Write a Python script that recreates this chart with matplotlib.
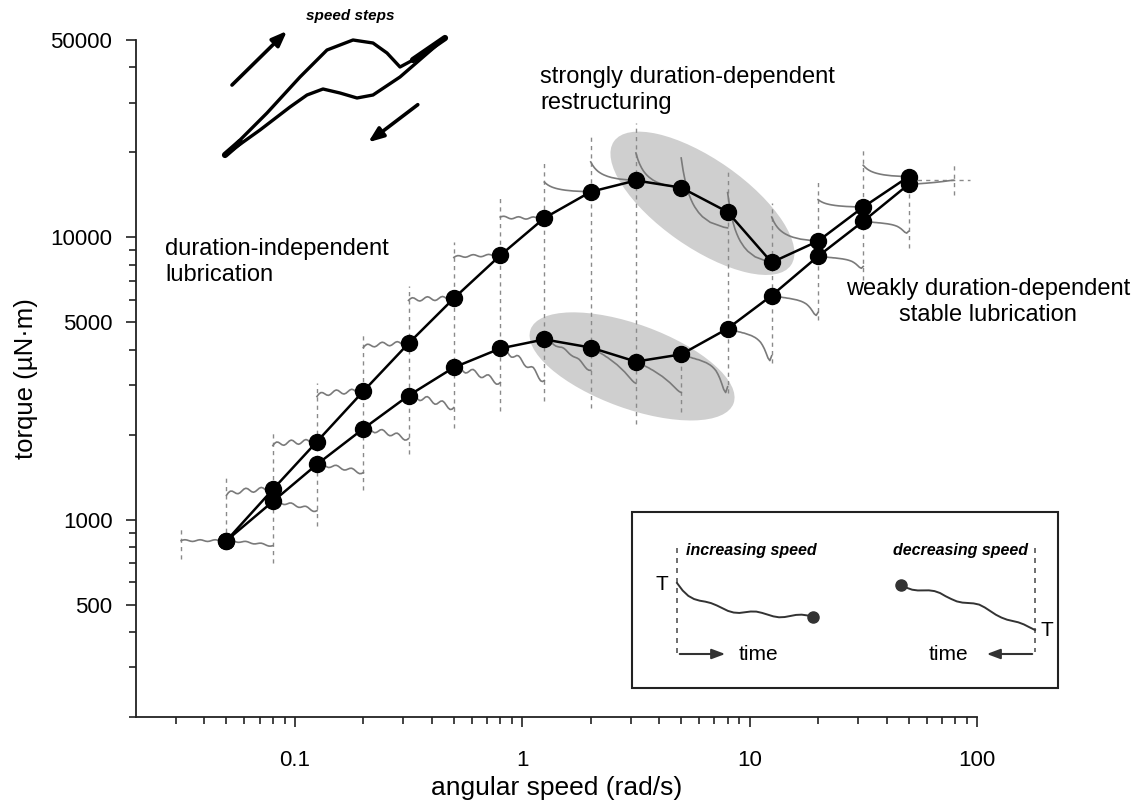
import numpy as np
import matplotlib.pyplot as plt
from matplotlib.patches import Ellipse, Rectangle
from matplotlib.transforms import ScaledTranslation

plt.rcParams['font.family'] = ['Liberation Sans', 'DejaVu Sans']

# speed steps (rad/s)
speeds = [0.05, 0.08, 0.125, 0.2, 0.316, 0.5, 0.8, 1.25, 2, 3.16, 5, 8, 12.5, 20, 31.6, 50]
# dashed markers sit on the step boundaries
edges = [0.0316] + speeds + [79]

# torque at the end of each step (uN.m)
torque_up = [843, 1280, 1890, 2850, 4210, 6080, 8630, 11700, 14500, 15900, 15000, 12300, 8150, 9700, 12800, 16400]
torque_down = [843, 1160, 1570, 2100, 2750, 3460, 4040, 4350, 4070, 3630, 3850, 4750, 6220, 8570, 11400, 15400]

# raw torque traces inside each step
up_start = [843, 1220, 1830, 2730, 4070, 5980, 8490, 11800, 15700, 18500, 19900, 19100, 14400, 11800, 13600, 18000]
up_end = [843, 1280, 1890, 2850, 4210, 6080, 8630, 11700, 14500, 15900, 15000, 10800, 8150, 9700, 12800, 16400]
down_end = [809, 1076, 1468, 1937, 2494, 3060, 3110, 3380, 3040, 2820, 2820, 3660, 5290, 7770, 10350, 15930]
up_wave = [0.003, 0.008, 0.008, 0.008, 0.007, 0.007, 0.004, 0.004, 0, 0, 0, 0, 0, 0, 0, 0]
down_wave = [0.003, 0.005, 0.006, 0.008, 0.01, 0.01, 0.01, 0.004, 0, 0, 0, 0, 0, 0, 0, 0]
down_dip = [False] * 10 + [True, True, True, True, True, False]

# extent of the dashed step markers
dash_top = [940, 1400, 2030, 3060, 4600, 6700, 9600, 14100, 18750, 23400, 25400, 3980, 17600, 13200, 15700, 20400, 15900, 18000]
dash_bottom = [727, 790, 700, 950, 1270, 1710, 2120, 2430, 2640, 2480, 2190, 2400, 2820, 3580, 5080, 7040, 9200, 14100]

# trace shapes (normalised)
DECAY = [1.00, 0.82, 0.68, 0.57, 0.48, 0.41, 0.35, 0.30, 0.26, 0.22, 0.19, 0.16, 0.14,
         0.12, 0.10, 0.08, 0.07, 0.06, 0.05, 0.04, 0.03, 0.02, 0.01, 0.005, 0.0]
SAG = [0, 0.03, 0.06, 0.09, 0.12, 0.15, 0.18, 0.21, 0.25, 0.28, 0.32, 0.36, 0.40,
       0.44, 0.48, 0.53, 0.58, 0.63, 0.68, 0.74, 0.80, 0.86, 0.92, 0.97, 1.0]
DIP = [0, 0.02, 0.04, 0.05, 0.07, 0.08, 0.10, 0.11, 0.13, 0.14, 0.16, 0.18, 0.20,
       0.22, 0.25, 0.28, 0.32, 0.37, 0.43, 0.52, 0.63, 0.77, 0.92, 1.0, 0.85]
WAVE = [0, .7, 1, .7, 0, -.7, -1, -.7, 0, .7, 1, .7, 0, -.7, -1, -.7, 0, .7, 1, .7, 0, -.7, -1, -.7, 0]

W, H = 1138, 810
fig = plt.figure(figsize=(W / 100, H / 100), dpi=100)
ax = fig.add_axes([136 / W, 1 - 717 / H, (977 - 136) / W, (717 - 40) / H])
ax.set_xscale('log')
ax.set_yscale('log')
ax.set_xlim(0.02, 100)
ax.set_ylim(200, 50000)

gray = '#7a7a7a'


def blob(cx, cy, w, h, angle):
    tr = fig.dpi_scale_trans + ScaledTranslation(cx, cy, ax.transData)
    ax.add_patch(Ellipse((0, 0), w, h, angle=angle, transform=tr,
                         facecolor='#cfcfcf', edgecolor='none', zorder=1))


blob(6.2, 13200, 2.16, 0.88, -35)
blob(3.04, 3490, 2.16, 0.84, -20)

for e, t, b in zip(edges, dash_top, dash_bottom):
    ax.plot([e, e], [b, t], ls=(0, (3, 3)), color='#8a8a8a', lw=1, zorder=2)
ax.plot([50, 93], [15930, 15930], ls=(0, (3, 3)), color='#8a8a8a', lw=1, zorder=2)

n = len(DECAY)
decay = np.array(DECAY)
wave = np.array(WAVE)
for i in range(len(speeds)):
    # increasing step: from previous boundary to this speed
    xs = np.logspace(np.log10(edges[i]), np.log10(edges[i + 1]), n)
    ly = np.log10(up_end[i]) + (np.log10(up_start[i]) - np.log10(up_end[i])) * decay + up_wave[i] * wave
    ax.plot(xs, 10 ** ly, color=gray, lw=1.2, zorder=3)
    # decreasing step: from this speed to next boundary
    xs = np.logspace(np.log10(edges[i + 1]), np.log10(edges[i + 2]), n)
    shape = np.array(DIP if down_dip[i] else SAG)
    ly = np.log10(torque_down[i]) + (np.log10(down_end[i]) - np.log10(torque_down[i])) * shape + down_wave[i] * wave
    ax.plot(xs, 10 ** ly, color=gray, lw=1.2, zorder=3)

ax.plot(speeds, torque_up, '-o', color='black', lw=1.8, ms=11.5, zorder=5)
ax.plot(speeds, torque_down, '-o', color='black', lw=1.8, ms=11.5, zorder=5)

for s in ['top', 'right']:
    ax.spines[s].set_visible(False)
for s in ['left', 'bottom']:
    ax.spines[s].set_linewidth(1.3)
    ax.spines[s].set_color('#222222')

ax.set_xticks([0.1, 1, 10, 100], labels=['0.1', '1', '10', '100'])
ax.set_yticks([500, 1000, 5000, 10000, 50000], labels=['500', '1000', '5000', '10000', '50000'])
ax.set_xticks([k * 10.0 ** d for d in range(-2, 2) for k in range(2, 10) if 0.02 < k * 10.0 ** d < 100], minor=True)
ax.set_yticks([k * 10.0 ** d for d in range(2, 5) for k in range(2, 10) if 200 <= k * 10.0 ** d < 50000], minor=True)
ax.xaxis.set_minor_formatter(plt.NullFormatter())
ax.yaxis.set_minor_formatter(plt.NullFormatter())
ax.tick_params(which='major', length=7, width=1.2, color='#222222', labelsize=16)
ax.tick_params(which='minor', length=5, width=1.2, color='#222222')
ax.tick_params(axis='x', which='major', pad=17)
ax.tick_params(axis='y', which='major', pad=10)
ax.set_xlabel('angular speed (rad/s)', fontsize=19, labelpad=3)
ax.set_ylabel('torque (µN·m)', fontsize=18.5, labelpad=9)

# overlay in pixel coordinates for annotations and schematic legends
ov = fig.add_axes([0, 0, 1, 1])
ov.set_xlim(0, W)
ov.set_ylim(H, 0)
ov.axis('off')
ov.patch.set_alpha(0)

ov.text(165, 262, 'duration-independent\nlubrication', fontsize=17, va='center', linespacing=1.25)
ov.text(540, 90, 'strongly duration-dependent\nrestructuring', fontsize=17, va='center', linespacing=1.25)
ov.text(988, 302, 'weakly duration-dependent\nstable lubrication', fontsize=17, va='center',
        ha='center', linespacing=1.25)

# speed steps icon
icon_top_x = [225, 267, 300, 327, 353, 373, 387, 400, 413, 445]
icon_top_y = [155, 113, 77, 50, 40, 43, 53, 67, 60, 38]
icon_bot_x = [225, 260, 290, 307, 323, 340, 357, 373, 400, 445]
icon_bot_y = [155, 130, 107, 95, 89, 93, 98, 95, 77, 38]
ov.plot(icon_top_x, icon_top_y, color='black', lw=2.4, solid_capstyle='round', solid_joinstyle='round')
ov.plot(icon_bot_x, icon_bot_y, color='black', lw=2.4, solid_capstyle='round', solid_joinstyle='round')
ov.plot([413, 445], [60, 38], color='black', lw=4.5, solid_capstyle='round')
ov.plot([225, 240], [155, 142], color='black', lw=4.5, solid_capstyle='round')
ov.annotate('', xy=(289, 29), xytext=(230, 87),
            arrowprops=dict(arrowstyle='-|>,head_length=0.9,head_width=0.35', color='black', lw=2.6))
ov.annotate('', xy=(366, 144), xytext=(420, 103),
            arrowprops=dict(arrowstyle='-|>,head_length=0.9,head_width=0.35', color='black', lw=2.6))
ov.text(350, 16, 'speed steps', fontsize=11, fontweight='bold', fontstyle='italic', ha='center', va='center')

# explanation box
ov.add_patch(Rectangle((632, 512), 426, 176, facecolor='white', edgecolor='#222222', lw=1.5))
ov.plot([677, 677], [548, 653], ls=(0, (3, 3)), color='#555555', lw=1.2)
ov.plot([1035, 1035], [548, 652], ls=(0, (3, 3)), color='#555555', lw=1.2)
inc_x = np.linspace(677, 813, n)
inc_y = 617 - 34 * decay + 2 * wave
ov.plot(inc_x, inc_y, color='#333333', lw=1.4)
ov.plot([813], [617], 'o', color='#333333', ms=8)
dec_x = np.linspace(901, 1035, n)
dec_y = 585 + 45 * np.array(SAG) + 2 * wave
ov.plot(dec_x, dec_y, color='#333333', lw=1.4)
ov.plot([901], [585], 'o', color='#333333', ms=8)
ov.text(662, 585, 'T', fontsize=15, ha='center', va='center')
ov.text(1047, 630, 'T', fontsize=15, ha='center', va='center')
ov.annotate('', xy=(728, 654), xytext=(677, 654),
            arrowprops=dict(arrowstyle='-|>,head_length=0.8,head_width=0.3', color='#333333', lw=1.5))
ov.annotate('', xy=(984, 654), xytext=(1035, 654),
            arrowprops=dict(arrowstyle='-|>,head_length=0.8,head_width=0.3', color='#333333', lw=1.5))
ov.text(758, 655, 'time', fontsize=15, ha='center', va='center')
ov.text(948, 655, 'time', fontsize=15, ha='center', va='center')
ov.text(751, 550, 'increasing speed', fontsize=11.5, fontweight='bold', fontstyle='italic', ha='center', va='center')
ov.text(961, 550, 'decreasing speed', fontsize=11.5, fontweight='bold', fontstyle='italic', ha='center', va='center')

fig.savefig('out.png', dpi=100)
